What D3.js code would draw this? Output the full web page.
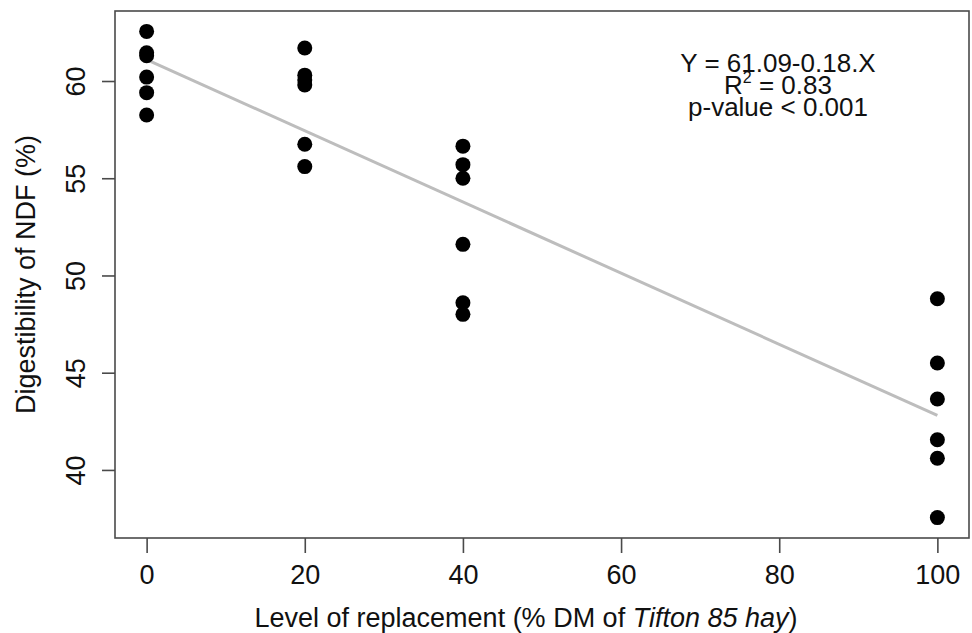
<!DOCTYPE html>
<meta charset="utf-8">
<html lang="en">
<head>
<script src="https://d3js.org/d3.v7.min.js"></script>
<style>
  body { margin: 0; background: #fff; }
  svg text { font-family: "Liberation Sans", Arial, Helvetica, sans-serif; fill: #111; }
</style>
</head>
<body>
<svg></svg>
<script>
// values
var levels = [0, 20, 40, 100];
var ndf0   = [62.55, 61.45, 61.3, 60.2, 59.4, 58.25];
var ndf20  = [61.7, 60.3, 60.05, 59.8, 56.75, 55.6];
var ndf40  = [56.65, 55.7, 55.0, 51.6, 48.6, 48.0];
var ndf100 = [48.8, 45.5, 43.65, 41.55, 40.6, 37.55];
var xTicks = [0, 20, 40, 60, 80, 100];
var yTicks = [40, 45, 50, 55, 60];
var fitX = [0, 100];
var fitY = [61.1, 42.8];
var eqLines = ["Y = 61.09-0.18.X", "R2 = 0.83", "p-value < 0.001"];

var width = 972, height = 633;
var svg = d3.select("svg").attr("width", width).attr("height", height);

// plot region (R style: 4% padding on both axes)
var pLeft = 115, pRight = 969, pTop = 11, pBottom = 538;
var x = d3.scaleLinear().domain([-4, 104]).range([pLeft, pRight]);
var y = d3.scaleLinear().domain([36.5, 63.6]).range([pBottom, pTop]);

var groups = [ndf0, ndf20, ndf40, ndf100];
var points = [];
groups.forEach(function(g, i) {
  g.forEach(function(v) { points.push({x: levels[i], y: v}); });
});

var axisCol = "#4a4a4a";

// fitted line
svg.append("line")
  .attr("x1", x(fitX[0])).attr("y1", y(fitY[0]))
  .attr("x2", x(fitX[1])).attr("y2", y(fitY[1]))
  .attr("stroke", "#bdbdbd").attr("stroke-width", 3);

// points
svg.append("g").selectAll("circle")
  .data(points)
  .enter().append("circle")
  .attr("cx", function(d) { return x(d.x); })
  .attr("cy", function(d) { return y(d.y); })
  .attr("r", 7.5)
  .attr("fill", "#000");

// box
svg.append("rect")
  .attr("x", pLeft).attr("y", pTop)
  .attr("width", pRight - pLeft).attr("height", pBottom - pTop)
  .attr("fill", "none").attr("stroke", axisCol).attr("stroke-width", 1.6);

// x axis
var xAxis = d3.axisBottom(x).tickValues(xTicks).tickSize(15).tickPadding(12).tickSizeOuter(0);
var gx = svg.append("g").attr("transform", "translate(0," + pBottom + ")").call(xAxis);
gx.select(".domain").remove();
gx.selectAll("line").attr("stroke", axisCol).attr("stroke-width", 1.6);
gx.selectAll("text").attr("font-size", 27).attr("fill", "#111")
  .style("font-family", "'Liberation Sans', Arial, sans-serif");

// y axis, labels rotated like R's default
var yAxis = d3.axisLeft(y).tickValues(yTicks).tickSize(13).tickSizeOuter(0);
var gy = svg.append("g").attr("transform", "translate(" + pLeft + ",0)").call(yAxis);
gy.select(".domain").remove();
gy.selectAll("line").attr("stroke", axisCol).attr("stroke-width", 1.6);
gy.selectAll("text")
  .attr("x", null).attr("dy", null)
  .attr("text-anchor", "middle")
  .attr("transform", "translate(-30,0) rotate(-90)")
  .attr("font-size", 27).attr("fill", "#111")
  .style("font-family", "'Liberation Sans', Arial, sans-serif");

// axis titles
var xt = svg.append("text")
  .attr("x", (pLeft + pRight) / 2 - 16).attr("y", 627)
  .attr("text-anchor", "middle").attr("font-size", 27);
xt.append("tspan").text("Level of replacement (% DM of ");
xt.append("tspan").attr("font-style", "italic").text("Tifton 85 hay");
xt.append("tspan").text(")");

svg.append("text")
  .attr("transform", "translate(35," + ((pTop + pBottom) / 2) + ") rotate(-90)")
  .attr("text-anchor", "middle").attr("font-size", 27)
  .text("Digestibility of NDF (%)");

// regression annotation
var ann = svg.append("g").attr("transform", "translate(778,0)");
ann.append("text").attr("y", 72).attr("text-anchor", "middle").attr("font-size", 26).text(eqLines[0]);
var r2 = ann.append("text").attr("y", 94).attr("text-anchor", "middle").attr("font-size", 26);
r2.append("tspan").text("R");
r2.append("tspan").attr("font-size", 16).attr("dy", -11).text("2");
r2.append("tspan").attr("dy", 11).text(" = 0.83");
ann.append("text").attr("y", 116).attr("text-anchor", "middle").attr("font-size", 26).text(eqLines[2]);
</script>
</body>
</html>
